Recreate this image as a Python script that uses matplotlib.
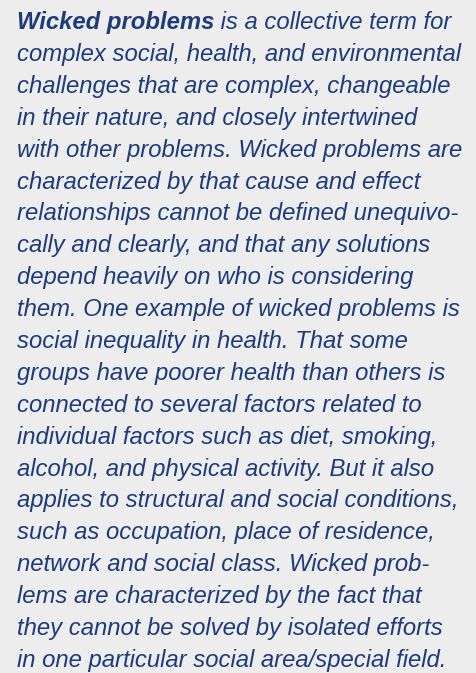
import matplotlib.pyplot as plt

lead = "Wicked problems"
lines = [
    " is a collective term for",
    "complex social, health, and environmental",
    "challenges that are complex, changeable",
    "in their nature, and closely intertwined",
    "with other problems. Wicked problems are",
    "characterized by that cause and effect",
    "relationships cannot be defined unequivo-",
    "cally and clearly, and that any solutions",
    "depend heavily on who is considering",
    "them. One example of wicked problems is",
    "social inequality in health. That some",
    "groups have poorer health than others is",
    "connected to several factors related to",
    "individual factors such as diet, smoking,",
    "alcohol, and physical activity. But it also",
    "applies to structural and social conditions,",
    "such as occupation, place of residence,",
    "network and social class. Wicked prob-",
    "lems are characterized by the fact that",
    "they cannot be solved by isolated efforts",
    "in one particular social area/special field.",
]

W, H = 476, 673
fig = plt.figure(figsize=(W / 100, H / 100), dpi=100)
fig.patch.set_facecolor('#ededed')

col = '#1e3b7b'
fs = 17.2
x0 = 17
y_first = 29
step = 31.9
kw = dict(family='Liberation Sans', style='italic', fontsize=fs, color=col, va='baseline', ha='left')

t0 = fig.text(x0 / W, 1 - y_first / H, lead, weight='bold', **kw)
fig.canvas.draw()
bb = t0.get_window_extent()
fig.text(bb.x1 / W, 1 - y_first / H, lines[0], **kw)

for i, ln in enumerate(lines[1:], start=1):
    fig.text(x0 / W, 1 - (y_first + i * step) / H, ln, **kw)

fig.savefig('out.png', dpi=100, facecolor=fig.get_facecolor())
